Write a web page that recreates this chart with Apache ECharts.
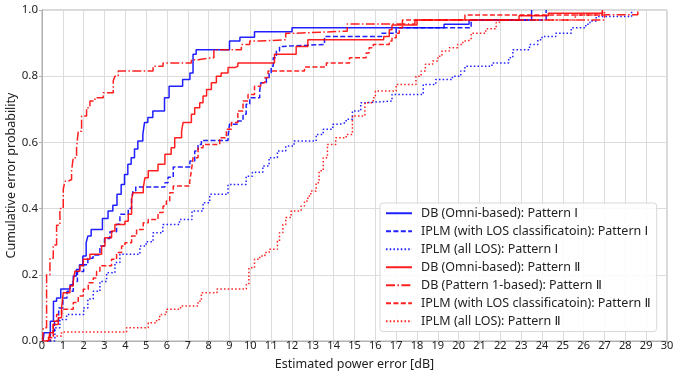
<!DOCTYPE html>
<html>
<head>
<meta charset="utf-8">
<script src="https://cdn.jsdelivr.net/npm/echarts@6/dist/echarts.min.js"></script>
<style>
  html, body { margin: 0; padding: 0; background: #fff; }
  #chart { width: 673px; height: 373px; }
</style>
</head>
<body>
<div id="chart"></div>
<script>
// step CDFs: x = estimated power error [dB], y = cumulative probability after the step
const dbOmniP1X = [0.05, 0.1, 0.4, 0.55, 0.7, 0.9, 1.35, 1.5, 1.65, 1.8, 1.96, 2.12, 2.2, 2.36, 2.9, 3.17, 3.4, 3.6, 3.8, 3.96, 4.12, 4.28, 4.44, 4.6, 4.84, 4.92, 5.08, 5.32, 5.88, 6.1, 6.75, 7.1, 7.25, 7.4, 9.0, 9.5, 10.2, 12.0, 19.3, 20.5, 23.5];
const dbOmniP1Y = [0, 0.025, 0.06, 0.12, 0.13, 0.157, 0.17, 0.196, 0.216, 0.23, 0.257, 0.297, 0.317, 0.337, 0.37, 0.393, 0.41, 0.443, 0.473, 0.503, 0.534, 0.554, 0.58, 0.604, 0.624, 0.66, 0.675, 0.695, 0.735, 0.77, 0.79, 0.81, 0.866, 0.88, 0.906, 0.918, 0.934, 0.946, 0.957, 0.97, 1.0];

const iplmLosP1X = [0.25, 0.4, 0.6, 0.8, 1.0, 1.2, 1.5, 1.7, 2.0, 2.2, 2.45, 2.78, 3.0, 3.26, 3.58, 3.74, 4.14, 4.3, 4.37, 4.5, 5.9, 6.05, 6.3, 7.1, 7.33, 7.49, 7.65, 8.93, 9.0, 9.4, 9.65, 9.8, 9.97, 10.45, 10.5, 10.77, 10.9, 11.0, 11.1, 11.25, 11.4, 11.56, 13.56, 16.3, 17.0, 20.6, 24.2];
const iplmLosP1Y = [0, 0.03, 0.06, 0.1, 0.13, 0.15, 0.18, 0.21, 0.23, 0.25, 0.26, 0.287, 0.31, 0.33, 0.353, 0.383, 0.4, 0.43, 0.453, 0.465, 0.478, 0.495, 0.526, 0.544, 0.574, 0.594, 0.606, 0.619, 0.655, 0.665, 0.685, 0.715, 0.735, 0.755, 0.78, 0.795, 0.81, 0.83, 0.856, 0.876, 0.89, 0.896, 0.92, 0.93, 0.946, 0.97, 1.0];

const iplmAllP1X = [0.38, 0.62, 0.86, 1.18, 2.0, 2.2, 2.46, 2.78, 3.1, 3.5, 3.74, 4.7, 5.0, 5.33, 5.8, 6.6, 7.2, 7.73, 8.05, 8.93, 9.8, 10.1, 10.6, 10.9, 11.3, 11.7, 12.1, 13.16, 13.5, 13.96, 14.3, 14.6, 14.9, 15.3, 15.6, 16.8, 18.3, 18.9, 19.7, 20.1, 20.3, 21.6, 22.4, 22.6, 23.4, 23.8, 24.0, 24.66, 25.4, 26.1, 26.3, 26.6, 28.3];
const iplmAllP1Y = [0, 0.04, 0.065, 0.08, 0.1, 0.127, 0.15, 0.18, 0.206, 0.237, 0.262, 0.287, 0.3, 0.327, 0.352, 0.367, 0.393, 0.418, 0.443, 0.473, 0.498, 0.51, 0.529, 0.554, 0.574, 0.589, 0.604, 0.624, 0.64, 0.655, 0.66, 0.67, 0.695, 0.72, 0.725, 0.745, 0.775, 0.79, 0.8, 0.816, 0.83, 0.84, 0.856, 0.88, 0.896, 0.91, 0.92, 0.93, 0.946, 0.957, 0.967, 0.98, 1.0];

const dbOmniP2X = [0.3, 0.38, 0.54, 0.78, 0.94, 1.02, 1.34, 1.5, 1.58, 1.82, 1.98, 2.3, 2.86, 3.02, 3.34, 3.5, 3.98, 4.14, 4.3, 4.37, 4.86, 4.94, 5.1, 5.57, 5.9, 6.2, 6.37, 6.7, 6.77, 7.17, 7.33, 7.57, 7.73, 7.9, 8.13, 8.37, 8.6, 8.93, 9.25, 9.4, 11.16, 12.2, 12.76, 16.4, 16.67, 16.8, 18.0, 22.9, 24.3, 26.9];
const dbOmniP2Y = [0, 0.025, 0.05, 0.07, 0.1, 0.146, 0.166, 0.18, 0.211, 0.227, 0.247, 0.262, 0.287, 0.312, 0.332, 0.352, 0.362, 0.383, 0.428, 0.448, 0.463, 0.493, 0.514, 0.534, 0.564, 0.584, 0.614, 0.634, 0.66, 0.685, 0.705, 0.72, 0.74, 0.76, 0.78, 0.8, 0.81, 0.826, 0.83, 0.84, 0.866, 0.89, 0.91, 0.92, 0.94, 0.955, 0.97, 0.983, 0.99, 1.0];

const dbPat1P2X = [0.03, 0.06, 0.22, 0.38, 0.54, 0.7, 0.86, 1.02, 1.1, 1.26, 1.42, 1.5, 1.66, 1.74, 1.9, 2.14, 2.3, 2.54, 2.94, 3.42, 3.5, 3.66, 5.33, 5.81, 7.17, 7.49, 8.25, 9.57, 9.97, 10.4, 11.7, 12.2, 14.65, 17.9, 27.0, 28.6];
const dbPat1P2Y = [0, 0.04, 0.2, 0.25, 0.29, 0.35, 0.4, 0.458, 0.483, 0.488, 0.514, 0.554, 0.584, 0.634, 0.68, 0.705, 0.725, 0.735, 0.75, 0.786, 0.8, 0.816, 0.83, 0.84, 0.85, 0.856, 0.88, 0.896, 0.906, 0.91, 0.93, 0.936, 0.958, 0.97, 0.986, 1.0];

const iplmLosP2X = [0.06, 0.3, 0.54, 0.7, 0.94, 1.5, 1.74, 1.98, 2.22, 2.46, 2.62, 2.78, 3.34, 3.58, 3.82, 3.98, 4.3, 4.54, 4.86, 5.1, 5.57, 5.81, 5.97, 6.13, 6.3, 7.09, 7.17, 7.25, 7.49, 7.73, 8.53, 8.85, 9.09, 9.4, 9.65, 9.89, 10.2, 10.5, 10.7, 10.85, 12.6, 13.65, 14.76, 15.56, 15.7, 15.9, 16.67, 16.8, 17.0, 17.15, 17.3, 20.3, 26.9];
const iplmLosP2Y = [0, 0.01, 0.06, 0.08, 0.096, 0.116, 0.136, 0.156, 0.176, 0.19, 0.211, 0.227, 0.247, 0.267, 0.287, 0.297, 0.317, 0.337, 0.357, 0.367, 0.388, 0.408, 0.423, 0.448, 0.468, 0.483, 0.514, 0.554, 0.584, 0.594, 0.614, 0.64, 0.66, 0.695, 0.725, 0.745, 0.77, 0.78, 0.795, 0.816, 0.828, 0.84, 0.856, 0.87, 0.886, 0.896, 0.906, 0.916, 0.93, 0.946, 0.97, 0.985, 1.0];

const iplmAllP2X = [0.22, 0.38, 0.94, 4.06, 5.1, 5.5, 5.65, 5.97, 6.65, 7.49, 7.65, 8.4, 9.81, 9.93, 10.2, 10.45, 10.7, 10.9, 11.3, 11.4, 11.56, 11.7, 11.96, 12.44, 12.6, 12.76, 12.9, 13.16, 13.3, 13.5, 13.7, 14.1, 14.6, 14.9, 15.5, 15.9, 16.0, 17.0, 17.95, 18.2, 18.4, 18.75, 19.0, 19.2, 19.55, 19.95, 20.2, 20.4, 20.6, 21.3, 21.8, 21.95, 25.6, 27.0];
const iplmAllP2Y = [0, 0.015, 0.027, 0.04, 0.055, 0.065, 0.08, 0.096, 0.106, 0.12, 0.146, 0.157, 0.171, 0.221, 0.247, 0.257, 0.267, 0.277, 0.302, 0.327, 0.352, 0.373, 0.393, 0.408, 0.423, 0.438, 0.453, 0.478, 0.514, 0.554, 0.594, 0.614, 0.624, 0.68, 0.72, 0.735, 0.755, 0.775, 0.8, 0.816, 0.836, 0.846, 0.86, 0.876, 0.886, 0.896, 0.906, 0.91, 0.93, 0.943, 0.962, 0.97, 0.985, 1.0];

const xTicks = { min: 0, max: 30, step: 1 };
const yTicks = { min: 0, max: 1, step: 0.2 };

const BLUE = "#0000ff";
const RED = "#ff0000";
const FONT = "'Noto Sans', 'DejaVu Sans', 'Noto Sans CJK JP', sans-serif";

const dashTypes = {
  solid: "solid",
  dashed: [5, 2.4],
  dotted: [1.5, 2.2],
  dashdot: [9, 2.4, 1.5, 2.4]
};

function pairs(xs, ys) {
  return xs.map((x, i) => [x, ys[i]]);
}

function cdfSeries(name, xs, ys, color, dash) {
  return {
    name,
    type: "line",
    step: "end",
    showSymbol: false,
    symbol: "none",
    silent: true,
    animation: false,
    color,
    lineStyle: { width: 1.5, color, type: dashTypes[dash], opacity: 0.88 },
    data: pairs(xs, ys)
  };
}

const chart = echarts.init(document.getElementById("chart"));
chart.setOption({
  animation: false,
  textStyle: { fontFamily: FONT },
  grid: {
    left: 42, right: 6, top: 10, bottom: 32,
    outerBoundsMode: "none",
    containLabel: false,
    show: true, borderColor: "#b0b0b0", borderWidth: 1
  },
  legend: {
    orient: "vertical",
    left: 380,
    top: 203,
    width: 288,
    padding: [4, 6, 4, 5],
    itemGap: 5.5,
    itemWidth: 26,
    itemHeight: 14,
    itemStyle: { opacity: 0 },
    backgroundColor: "rgba(255,255,255,0.85)",
    borderColor: "#d8d8d8",
    borderWidth: 1,
    borderRadius: 3,
    textStyle: { fontFamily: FONT, fontSize: 12.5, color: "#222", padding: [0, 0, 0, 4] },
    data: [
      "DB (Omni-based): Pattern Ⅰ",
      "IPLM (with LOS classificatoin): Pattern Ⅰ",
      "IPLM (all LOS): Pattern Ⅰ",
      "DB (Omni-based): Pattern Ⅱ",
      "DB (Pattern 1-based): Pattern Ⅱ",
      "IPLM (with LOS classificatoin): Pattern Ⅱ",
      "IPLM (all LOS): Pattern Ⅱ"
    ]
  },
  xAxis: {
    type: "value",
    min: xTicks.min,
    max: xTicks.max,
    interval: xTicks.step,
    name: "Estimated power error [dB]",
    nameLocation: "middle",
    nameMoveOverlap: false,
    nameGap: 17,
    nameTextStyle: { fontFamily: FONT, fontSize: 12.5, color: "#222" },
    axisLine: { show: true, lineStyle: { color: "#b0b0b0" } },
    axisTick: { show: true, length: 3, lineStyle: { color: "#b0b0b0" } },
    axisLabel: { fontFamily: FONT, fontSize: 11, color: "#222", margin: -1 },
    splitLine: { show: true, lineStyle: { color: "#dcdcdc", width: 1 } }
  },
  yAxis: {
    type: "value",
    min: yTicks.min,
    max: yTicks.max,
    interval: yTicks.step,
    name: "Cumulative error probability",
    nameLocation: "middle",
    nameMoveOverlap: false,
    nameGap: 24,
    nameTextStyle: { fontFamily: FONT, fontSize: 12.5, color: "#222" },
    axisLine: { show: true, lineStyle: { color: "#b0b0b0" } },
    axisTick: { show: true, length: 3, lineStyle: { color: "#b0b0b0" } },
    axisLabel: { fontFamily: FONT, fontSize: 11.5, color: "#222", margin: 4, formatter: (v) => v.toFixed(1) },
    splitLine: { show: true, lineStyle: { color: "#dcdcdc", width: 1 } }
  },
  series: [
    cdfSeries("DB (Omni-based): Pattern Ⅰ", dbOmniP1X, dbOmniP1Y, BLUE, "solid"),
    cdfSeries("IPLM (with LOS classificatoin): Pattern Ⅰ", iplmLosP1X, iplmLosP1Y, BLUE, "dashed"),
    cdfSeries("IPLM (all LOS): Pattern Ⅰ", iplmAllP1X, iplmAllP1Y, BLUE, "dotted"),
    cdfSeries("DB (Omni-based): Pattern Ⅱ", dbOmniP2X, dbOmniP2Y, RED, "solid"),
    cdfSeries("DB (Pattern 1-based): Pattern Ⅱ", dbPat1P2X, dbPat1P2Y, RED, "dashdot"),
    cdfSeries("IPLM (with LOS classificatoin): Pattern Ⅱ", iplmLosP2X, iplmLosP2Y, RED, "dashed"),
    cdfSeries("IPLM (all LOS): Pattern Ⅱ", iplmAllP2X, iplmAllP2Y, RED, "dotted")
  ]
});
</script>
</body>
</html>
